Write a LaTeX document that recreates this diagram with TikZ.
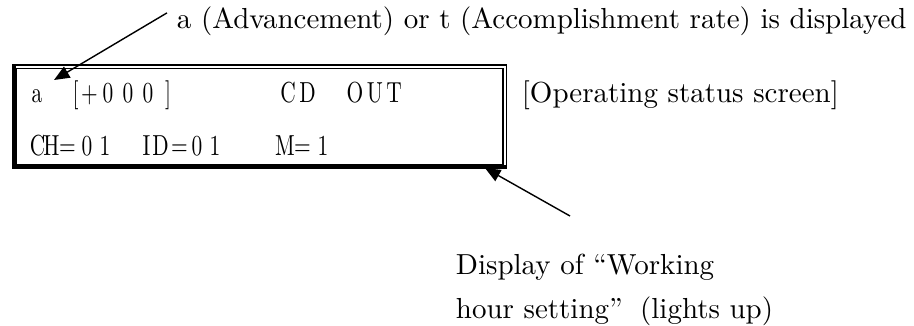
\documentclass[tikz,border=0pt]{standalone}
\usetikzlibrary{arrows.meta}

\begin{document}
\begin{tikzpicture}[x=0.0125cm, y=-0.0125cm,
  font=\fontsize{10.3}{12.4}\selectfont,
  arr/.style={-{Triangle[length=5.5pt,width=4.5pt]}, line width=0.5pt},
  lcd/.style={anchor=base, inner sep=0pt}]
\useasboundingbox (0,0) rectangle (914,326);
% display frame
\node[draw, double, line width=0.45pt, double distance=0.8pt, outer sep=0pt,
  minimum width=6.13cm, minimum height=1.25cm] (screen) at (259.5,116.75) {};
\draw[line width=1.4pt, line cap=rect] (screen.north west) -- (screen.south west) -- (screen.south east);
% screen characters
\foreach \c/\x [count=\i] in {a/37, {[}/75.5, {+}/89.5, 0/108, 0/128, 0/148, {]}/168,
    C/288, D/307.5, O/355, U/375, T/394}
  \node[lcd] (ra\i) at (\x,102) {\scalebox{0.74}[1]{\c}};
\foreach \c/\x [count=\i] in {C/37.5, H/51.5, {=}/67.5, 0/87, 1/105,
    I/146.5, D/160.5, {=}/179.5, 0/197, 1/215, M/285, {=}/302.5, 1/323}
  \node[lcd] (rb\i) at (\x,155) {\scalebox{0.74}[1]{\c}};
% labels
\node[anchor=base west] (advance) at (167,28) {a (Advancement) or t (Accomplishment rate) is displayed};
\node[anchor=base west] (status) at (512,103) {[Operating status screen]};
\node[anchor=base west, align=left] (working) at (446,318)
  {Display of “Working\\[3.2pt] hour setting”\hspace{0.6em}(lights up)};
\coordinate (atip) at (54,80);
\coordinate (wtail) at (570,216);
\coordinate (wtip) at (485,168);
\draw[arr] ([yshift=2.8pt]advance.west) -- (atip);
\draw[arr] (wtail) -- (wtip);
\end{tikzpicture}
\end{document}
